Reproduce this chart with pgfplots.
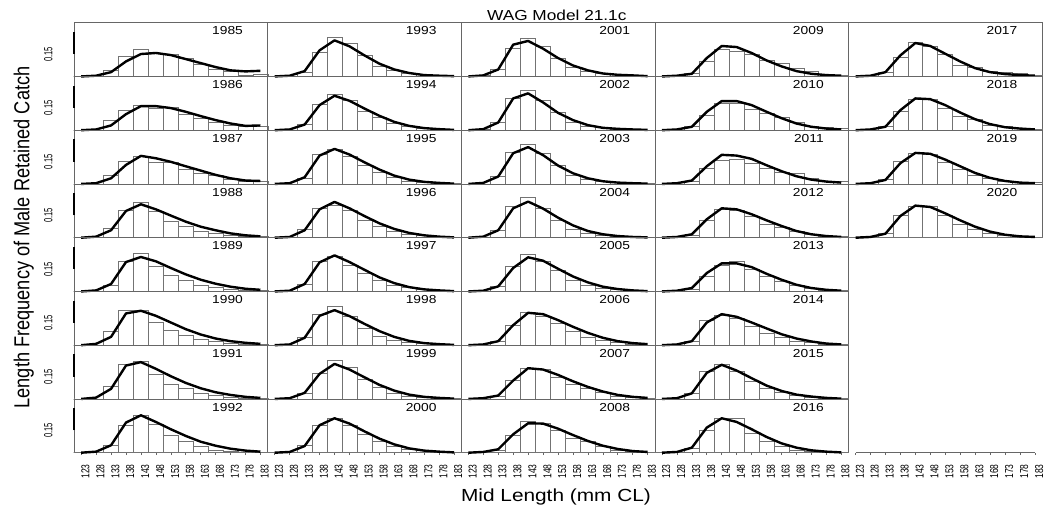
\documentclass[border=0pt]{standalone}
\usepackage{fontspec}
\setmainfont{Liberation Sans}
\usepackage{graphicx}
\usepackage{pgfplots}
\pgfplotsset{compat=1.18}

\newcommand\yearfont{\fontsize{11.6}{13}\selectfont}
\newcommand\tickfont{\fontsize{8.5}{9}\selectfont}

\pgfplotsset{
  panel/.style={width=193.6pt, height=53.75pt, scale only axis, anchor=north west,
    xmin=120.6, xmax=185.4, ymin=0, ymax=0.362, xtick=\empty, ytick=\empty,
    axis line style={draw=black!60, line width=0.6pt}, clip=false},
  bottomrow/.style={xtick={123,128,133,138,143,148,153,158,163,168,173,178,183},
    xtick pos=bottom, tick align=outside, major tick length=2.5pt,
    tick style={draw=black!60, line width=0.6pt},
    /pgf/number format/assume math mode=true,
    xticklabel={\scalebox{1}[1.35]{\pgfmathprintnumber{\tick}}},
    xticklabel style={rotate=90, anchor=north east, inner sep=0pt, font=\tickfont},
    xticklabel shift=9pt},
  leftcol/.style={after end axis/.append code={
    \draw[line width=1.5pt] (axis cs:120.6,0.15) -- (axis cs:120.6,0.30);
    \node[font=\fontsize{7.6}{9}\selectfont, inner sep=0pt, shift={(-25.7pt,0pt)}, rotate=90]
      at (axis cs:120.6,0.15) {\scalebox{1}[1.55]{0.15}};}},
}

% #1 column, #2 row, #3 year, #4 extra options, #5 observed, #6 expected
\newcommand{\panel}[6]{%
  \begin{axis}[panel, #4, at={({74pt+#1*193.6pt},{488.3pt-#2*53.75pt})}]
    \addplot[ybar, bar width=5, fill=white, draw=black!55, line width=0.7pt] coordinates {#5};
    \addplot[black, line width=2.4pt, line join=round] coordinates {#6};
    \node[anchor=east, inner sep=0pt, font=\yearfont, shift={(-24.5pt,-8.1pt)}]
      at (rel axis cs:1,1) {\scalebox{1.19}[1]{#3}};
  \end{axis}}

\begin{document}
\begin{tikzpicture}
\useasboundingbox (0,0) rectangle (1045pt,511pt);

% column 1
\panel{0}{0}{1985}{leftcol}
{(123,0)(128,0)(133,0.041)(138,0.135)(143,0.180)(148,0.158)(153,0.146)(158,0.119)(163,0.081)(168,0.047)(173,0.036)(178,0.007)(183,0.011)}
{(123,0)(128,0.005)(133,0.029)(138,0.101)(143,0.151)(148,0.158)(153,0.144)(158,0.117)(163,0.090)(168,0.063)(173,0.041)(178,0.034)(183,0.038)}
\panel{0}{1}{1986}{leftcol}
{(123,0)(128,0)(133,0.063)(138,0.131)(143,0.164)(148,0.146)(153,0.151)(158,0.106)(163,0.079)(168,0.052)(173,0.034)(178,0.023)(183,0.029)}
{(123,0)(128,0.005)(133,0.032)(138,0.108)(143,0.162)(148,0.162)(153,0.149)(158,0.124)(163,0.095)(168,0.068)(173,0.045)(178,0.029)(183,0.032)}
\panel{0}{2}{1987}{leftcol}
{(123,0)(128,0)(133,0.061)(138,0.151)(143,0.189)(148,0.144)(153,0.144)(158,0.095)(163,0.072)(168,0.056)(173,0.034)(178,0.016)(183,0.016)}
{(123,0)(128,0.005)(133,0.038)(138,0.128)(143,0.189)(148,0.173)(153,0.149)(158,0.119)(163,0.090)(168,0.061)(173,0.038)(178,0.023)(183,0.020)}
\panel{0}{3}{1988}{leftcol}
{(123,0)(128,0)(133,0.063)(138,0.187)(143,0.239)(148,0.180)(153,0.108)(158,0.074)(163,0.045)(168,0.029)(173,0.018)(178,0.007)(183,0.007)}
{(123,0)(128,0.007)(133,0.050)(138,0.180)(143,0.225)(148,0.191)(153,0.149)(158,0.108)(163,0.074)(168,0.050)(173,0.029)(178,0.016)(183,0.009)}
\panel{0}{4}{1989}{leftcol}
{(123,0)(128,0)(133,0.043)(138,0.200)(143,0.257)(148,0.167)(153,0.110)(158,0.072)(163,0.043)(168,0.025)(173,0.016)(178,0.009)(183,0.005)}
{(123,0)(128,0.007)(133,0.050)(138,0.198)(143,0.232)(148,0.203)(153,0.158)(158,0.115)(163,0.079)(168,0.052)(173,0.032)(178,0.018)(183,0.011)}
\panel{0}{5}{1990}{leftcol}
{(123,0)(128,0)(133,0.090)(138,0.232)(143,0.232)(148,0.153)(153,0.101)(158,0.063)(163,0.038)(168,0.023)(173,0.011)(178,0.005)(183,0.005)}
{(123,0)(128,0.009)(133,0.056)(138,0.214)(143,0.232)(148,0.198)(153,0.153)(158,0.108)(163,0.072)(168,0.045)(173,0.027)(178,0.016)(183,0.009)}
\panel{0}{6}{1991}{leftcol}
{(123,0)(128,0)(133,0.083)(138,0.236)(143,0.252)(148,0.167)(153,0.101)(158,0.068)(163,0.038)(168,0.023)(173,0.011)(178,0.005)(183,0.005)}
{(123,0)(128,0.009)(133,0.068)(138,0.225)(143,0.248)(148,0.203)(153,0.153)(158,0.108)(163,0.072)(168,0.045)(173,0.027)(178,0.014)(183,0.007)}
\panel{0}{7}{1992}{leftcol,bottomrow}
{(123,0)(128,0)(133,0.052)(138,0.187)(143,0.250)(148,0.191)(153,0.119)(158,0.074)(163,0.041)(168,0.018)(173,0.011)(178,0.005)(183,0.002)}
{(123,0)(128,0.007)(133,0.050)(138,0.203)(143,0.252)(148,0.207)(153,0.158)(158,0.113)(163,0.074)(168,0.047)(173,0.027)(178,0.014)(183,0.007)}

% column 2
\panel{1}{0}{1993}{}
{(123,0)(128,0)(133,0.029)(138,0.164)(143,0.266)(148,0.225)(153,0.140)(158,0.068)(163,0.038)(168,0.018)(173,0.011)(178,0.005)(183,0.002)}
{(123,0)(128,0.005)(133,0.036)(138,0.176)(143,0.243)(148,0.203)(153,0.142)(158,0.086)(163,0.047)(168,0.023)(173,0.009)(178,0.005)(183,0.002)}
\panel{1}{1}{1994}{}
{(123,0)(128,0)(133,0.038)(138,0.173)(143,0.243)(148,0.203)(153,0.128)(158,0.086)(163,0.045)(168,0.023)(173,0.011)(178,0.005)(183,0.002)}
{(123,0)(128,0.005)(133,0.038)(138,0.169)(143,0.232)(148,0.198)(153,0.146)(158,0.097)(163,0.056)(168,0.029)(173,0.014)(178,0.007)(183,0.002)}
\panel{1}{2}{1995}{}
{(123,0)(128,0)(133,0.038)(138,0.196)(143,0.236)(148,0.185)(153,0.124)(158,0.079)(163,0.043)(168,0.020)(173,0.011)(178,0.005)(183,0.002)}
{(123,0)(128,0.005)(133,0.045)(138,0.191)(143,0.236)(148,0.198)(153,0.146)(158,0.097)(163,0.056)(168,0.029)(173,0.014)(178,0.007)(183,0.002)}
\panel{1}{3}{1996}{}
{(123,0)(128,0)(133,0.059)(138,0.198)(143,0.221)(148,0.187)(153,0.119)(158,0.074)(163,0.041)(168,0.023)(173,0.014)(178,0.005)(183,0.002)}
{(123,0)(128,0.005)(133,0.050)(138,0.191)(143,0.241)(148,0.198)(153,0.146)(158,0.097)(163,0.059)(168,0.032)(173,0.016)(178,0.007)(183,0.002)}
\panel{1}{4}{1997}{}
{(123,0)(128,0)(133,0.050)(138,0.200)(143,0.234)(148,0.178)(153,0.122)(158,0.077)(163,0.043)(168,0.025)(173,0.016)(178,0.007)(183,0.002)}
{(123,0)(128,0.005)(133,0.050)(138,0.196)(143,0.243)(148,0.198)(153,0.146)(158,0.095)(163,0.056)(168,0.029)(173,0.014)(178,0.007)(183,0.002)}
\panel{1}{5}{1998}{}
{(123,0)(128,0)(133,0.050)(138,0.207)(143,0.259)(148,0.191)(153,0.113)(158,0.061)(163,0.034)(168,0.018)(173,0.011)(178,0.005)(183,0.002)}
{(123,0)(128,0.005)(133,0.050)(138,0.198)(143,0.236)(148,0.196)(153,0.144)(158,0.095)(163,0.056)(168,0.029)(173,0.014)(178,0.007)(183,0.002)}
\panel{1}{6}{1999}{}
{(123,0)(128,0)(133,0.038)(138,0.173)(143,0.259)(148,0.212)(153,0.135)(158,0.077)(163,0.038)(168,0.020)(173,0.011)(178,0.005)(183,0.002)}
{(123,0)(128,0.005)(133,0.041)(138,0.169)(143,0.236)(148,0.198)(153,0.146)(158,0.095)(163,0.056)(168,0.029)(173,0.014)(178,0.007)(183,0.002)}
\panel{1}{7}{2000}{bottomrow}
{(123,0)(128,0)(133,0.047)(138,0.187)(143,0.232)(148,0.187)(153,0.124)(158,0.074)(163,0.041)(168,0.023)(173,0.014)(178,0.007)(183,0.002)}
{(123,0)(128,0.005)(133,0.045)(138,0.185)(143,0.232)(148,0.196)(153,0.144)(158,0.095)(163,0.056)(168,0.029)(173,0.014)(178,0.007)(183,0.002)}

% column 3
\panel{2}{0}{2001}{}
{(123,0)(128,0.005)(133,0.047)(138,0.191)(143,0.254)(148,0.205)(153,0.124)(158,0.063)(163,0.034)(168,0.018)(173,0.011)(178,0.005)(183,0.002)}
{(123,0)(128,0.007)(133,0.047)(138,0.214)(143,0.239)(148,0.187)(153,0.124)(158,0.074)(163,0.041)(168,0.020)(173,0.011)(178,0.007)(183,0.002)}
\panel{2}{1}{2002}{}
{(123,0)(128,0.005)(133,0.052)(138,0.214)(143,0.270)(148,0.203)(153,0.119)(158,0.056)(163,0.029)(168,0.016)(173,0.009)(178,0.005)(183,0.002)}
{(123,0)(128,0.007)(133,0.052)(138,0.214)(143,0.248)(148,0.187)(153,0.117)(158,0.068)(163,0.034)(168,0.016)(173,0.009)(178,0.005)(183,0.002)}
\panel{2}{2}{2003}{}
{(123,0)(128,0)(133,0.050)(138,0.212)(143,0.268)(148,0.207)(153,0.128)(158,0.061)(163,0.034)(168,0.016)(173,0.009)(178,0.005)(183,0.002)}
{(123,0)(128,0.007)(133,0.050)(138,0.207)(143,0.248)(148,0.194)(153,0.124)(158,0.072)(163,0.038)(168,0.018)(173,0.009)(178,0.005)(183,0.002)}
\panel{2}{3}{2004}{}
{(123,0)(128,0)(133,0.047)(138,0.209)(143,0.272)(148,0.198)(153,0.115)(158,0.059)(163,0.029)(168,0.014)(173,0.007)(178,0.005)(183,0.002)}
{(123,0)(128,0.007)(133,0.050)(138,0.198)(143,0.243)(148,0.196)(153,0.135)(158,0.083)(163,0.045)(168,0.023)(173,0.011)(178,0.005)(183,0.002)}
\panel{2}{4}{2005}{}
{(123,0)(128,0)(133,0.032)(138,0.167)(143,0.250)(148,0.205)(153,0.140)(158,0.077)(163,0.043)(168,0.020)(173,0.011)(178,0.005)(183,0.002)}
{(123,0)(128,0.005)(133,0.034)(138,0.158)(143,0.230)(148,0.207)(153,0.153)(158,0.101)(163,0.061)(168,0.032)(173,0.016)(178,0.007)(183,0.002)}
\panel{2}{5}{2006}{}
{(123,0)(128,0)(133,0.023)(138,0.131)(143,0.218)(148,0.191)(153,0.146)(158,0.095)(163,0.056)(168,0.034)(173,0.018)(178,0.007)(183,0.002)}
{(123,0)(128,0.005)(133,0.027)(138,0.135)(143,0.218)(148,0.209)(153,0.169)(158,0.124)(163,0.083)(168,0.050)(173,0.027)(178,0.014)(183,0.007)}
\panel{2}{6}{2007}{}
{(123,0)(128,0)(133,0.020)(138,0.128)(143,0.207)(148,0.196)(153,0.146)(158,0.101)(163,0.072)(168,0.045)(173,0.020)(178,0.009)(183,0.005)}
{(123,0)(128,0.005)(133,0.023)(138,0.124)(143,0.207)(148,0.198)(153,0.162)(158,0.119)(163,0.081)(168,0.050)(173,0.027)(178,0.014)(183,0.007)}
\panel{2}{7}{2008}{bottomrow}
{(123,0)(128,0)(133,0.018)(138,0.119)(143,0.209)(148,0.198)(153,0.153)(158,0.097)(163,0.074)(168,0.045)(173,0.018)(178,0.007)(183,0.002)}
{(123,0)(128,0.005)(133,0.023)(138,0.124)(143,0.198)(148,0.196)(153,0.162)(158,0.119)(163,0.079)(168,0.047)(173,0.025)(178,0.011)(183,0.005)}

% column 4
\panel{3}{0}{2009}{}
{(123,0)(128,0)(133,0.018)(138,0.104)(143,0.180)(148,0.171)(153,0.146)(158,0.108)(163,0.086)(168,0.056)(173,0.036)(178,0.014)(183,0.007)}
{(123,0)(128,0.005)(133,0.018)(138,0.124)(143,0.205)(148,0.198)(153,0.158)(158,0.108)(163,0.068)(168,0.036)(173,0.018)(178,0.009)(183,0.005)}
\panel{3}{1}{2010}{}
{(123,0)(128,0)(133,0.023)(138,0.097)(143,0.180)(148,0.180)(153,0.142)(158,0.113)(163,0.086)(168,0.056)(173,0.029)(178,0.018)(183,0.011)}
{(123,0)(128,0.005)(133,0.023)(138,0.124)(143,0.196)(148,0.196)(153,0.169)(158,0.124)(163,0.081)(168,0.045)(173,0.023)(178,0.011)(183,0.005)}
\panel{3}{2}{2011}{}
{(123,0)(128,0)(133,0.016)(138,0.106)(143,0.158)(148,0.167)(153,0.140)(158,0.106)(163,0.079)(168,0.068)(173,0.038)(178,0.020)(183,0.018)}
{(123,0)(128,0.005)(133,0.023)(138,0.119)(143,0.196)(148,0.191)(153,0.169)(158,0.126)(163,0.086)(168,0.052)(173,0.029)(178,0.016)(183,0.009)}
\panel{3}{3}{2012}{}
{(123,0)(128,0)(133,0.018)(138,0.119)(143,0.191)(148,0.182)(153,0.142)(158,0.090)(163,0.068)(168,0.045)(173,0.023)(178,0.011)(183,0.007)}
{(123,0)(128,0.005)(133,0.023)(138,0.124)(143,0.198)(148,0.191)(153,0.158)(158,0.117)(163,0.079)(168,0.045)(173,0.023)(178,0.011)(183,0.005)}
\panel{3}{4}{2013}{}
{(123,0)(128,0)(133,0.016)(138,0.099)(143,0.178)(148,0.205)(153,0.151)(158,0.099)(163,0.065)(168,0.043)(173,0.020)(178,0.009)(183,0.007)}
{(123,0)(128,0.005)(133,0.023)(138,0.124)(143,0.189)(148,0.189)(153,0.164)(158,0.119)(163,0.079)(168,0.045)(173,0.023)(178,0.011)(183,0.005)}
\panel{3}{5}{2014}{}
{(123,0)(128,0)(133,0.027)(138,0.169)(143,0.203)(148,0.180)(153,0.124)(158,0.083)(163,0.056)(168,0.029)(173,0.018)(178,0.009)(183,0.005)}
{(123,0)(128,0.005)(133,0.027)(138,0.153)(143,0.209)(148,0.191)(153,0.153)(158,0.113)(163,0.074)(168,0.045)(173,0.025)(178,0.011)(183,0.005)}
\panel{3}{6}{2015}{}
{(123,0)(128,0)(133,0.038)(138,0.189)(143,0.230)(148,0.189)(153,0.117)(158,0.068)(163,0.045)(168,0.023)(173,0.011)(178,0.005)(183,0.002)}
{(123,0)(128,0.005)(133,0.038)(138,0.176)(143,0.230)(148,0.191)(153,0.140)(158,0.090)(163,0.054)(168,0.029)(173,0.016)(178,0.007)(183,0.002)}
\panel{3}{7}{2016}{bottomrow}
{(123,0)(128,0)(133,0.029)(138,0.153)(143,0.232)(148,0.232)(153,0.131)(158,0.074)(163,0.041)(168,0.018)(173,0.011)(178,0.005)(183,0.002)}
{(123,0)(128,0.005)(133,0.034)(138,0.169)(143,0.232)(148,0.207)(153,0.158)(158,0.106)(163,0.063)(168,0.034)(173,0.016)(178,0.007)(183,0.002)}

% column 5
\panel{4}{0}{2017}{}
{(123,0)(128,0)(133,0.025)(138,0.131)(143,0.232)(148,0.205)(153,0.146)(158,0.074)(163,0.059)(168,0.034)(173,0.025)(178,0.018)(183,0.007)}
{(123,0)(128,0.005)(133,0.029)(138,0.142)(143,0.225)(148,0.205)(153,0.153)(158,0.101)(163,0.056)(168,0.029)(173,0.016)(178,0.009)(183,0.005)}
\panel{4}{1}{2018}{}
{(123,0)(128,0)(133,0.023)(138,0.124)(143,0.207)(148,0.207)(153,0.146)(158,0.095)(163,0.072)(168,0.034)(173,0.023)(178,0.011)(183,0.009)}
{(123,0)(128,0.005)(133,0.023)(138,0.135)(143,0.214)(148,0.209)(153,0.169)(158,0.119)(163,0.074)(168,0.041)(173,0.020)(178,0.011)(183,0.005)}
\panel{4}{2}{2019}{}
{(123,0)(128,0)(133,0.032)(138,0.151)(143,0.207)(148,0.196)(153,0.144)(158,0.095)(163,0.061)(168,0.038)(173,0.020)(178,0.011)(183,0.009)}
{(123,0)(128,0.005)(133,0.027)(138,0.140)(143,0.209)(148,0.203)(153,0.164)(158,0.119)(163,0.074)(168,0.041)(173,0.020)(178,0.009)(183,0.005)}
\panel{4}{3}{2020}{}
{(123,0)(128,0)(133,0.029)(138,0.149)(143,0.214)(148,0.214)(153,0.153)(158,0.090)(163,0.059)(168,0.029)(173,0.018)(178,0.011)(183,0.005)}
{(123,0)(128,0.005)(133,0.027)(138,0.146)(143,0.216)(148,0.207)(153,0.164)(158,0.117)(163,0.074)(168,0.041)(173,0.020)(178,0.009)(183,0.005)}

% empty slot: only the length axis
\begin{axis}[panel, bottomrow, at={(848.4pt,112.05pt)}, axis line style={draw=none}]
  \addplot[black!60, line width=0.6pt] coordinates {(123,0) (183,0)};
\end{axis}

\node[font=\fontsize{14.5}{16}\selectfont] at (556.8pt,495.7pt) {\scalebox{1.19}[1]{WAG Model 21.1c}};
\node[font=\fontsize{17.5}{20}\selectfont, anchor=base, inner sep=0pt] at (556pt,9pt) {\scalebox{1.19}[1]{Mid Length (mm CL)}};
\node[font=\fontsize{18.2}{20}\selectfont, anchor=south, inner sep=0pt, rotate=90] at (34pt,273.6pt) {\scalebox{1}[1.19]{Length Frequency of Male Retained Catch}};
\end{tikzpicture}
\end{document}
